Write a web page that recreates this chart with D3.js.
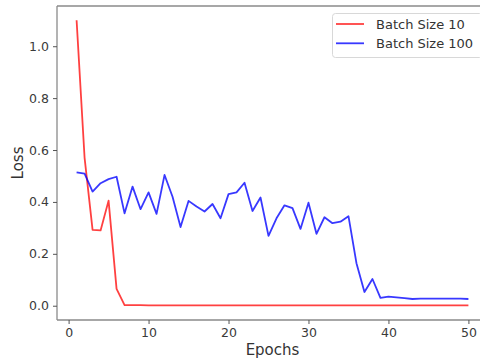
<!DOCTYPE html>
<html>
<head>
<meta charset="utf-8">
<script src="https://cdn.jsdelivr.net/npm/d3@7"></script>
<style>
  body { margin: 0; background: #fff; }
  text { font-family: "DejaVu Sans", sans-serif; }
</style>
</head>
<body>
<div id="chart"></div>
<script>
// epochs 1..50
const epochs = d3.range(1, 51);

const batch10 = [
  1.10, 0.57, 0.292, 0.29, 0.405, 0.065, 0.002, 0.002, 0.002, 0.001,
  0.001, 0.001, 0.001, 0.001, 0.001, 0.001, 0.001, 0.001, 0.001, 0.001,
  0.001, 0.001, 0.001, 0.001, 0.001, 0.001, 0.001, 0.001, 0.001, 0.001,
  0.001, 0.001, 0.001, 0.001, 0.001, 0.001, 0.001, 0.001, 0.001, 0.001,
  0.001, 0.001, 0.001, 0.001, 0.001, 0.001, 0.001, 0.001, 0.001, 0.001
];

const batch100 = [
  0.514, 0.509, 0.44, 0.472, 0.488, 0.497, 0.356, 0.459, 0.372, 0.437,
  0.354, 0.504, 0.42, 0.303, 0.404, 0.382, 0.363, 0.392, 0.337, 0.43,
  0.437, 0.474, 0.365, 0.417, 0.269, 0.337, 0.387, 0.376, 0.296, 0.397,
  0.277, 0.341, 0.318, 0.324, 0.345, 0.164, 0.053, 0.103, 0.03, 0.035,
  0.032, 0.029, 0.026, 0.027, 0.027, 0.027, 0.027, 0.027, 0.027, 0.026
];

const xTicks = [0, 10, 20, 30, 40, 50];
const yTicks = [0.0, 0.2, 0.4, 0.6, 0.8, 1.0];

const seriesNames = ["Batch Size 10", "Batch Size 100"];
const seriesColors = ["rgba(255,0,0,0.75)", "rgba(0,0,255,0.78)"];

const width = 480, height = 362;
const plotLeft = 57, plotRight = 488, plotTop = 6, plotBottom = 320;

const svg = d3.select("#chart").append("svg")
  .attr("width", width)
  .attr("height", height);

const x = d3.scaleLinear().domain([-1.45, 52.45]).range([plotLeft, plotRight]);
const y = d3.scaleLinear().domain([-0.055, 1.155]).range([plotBottom, plotTop]);

const line = d3.line()
  .x((d, i) => x(epochs[i]))
  .y(d => y(d));

[batch10, batch100].forEach((s, k) => {
  svg.append("path")
    .datum(s)
    .attr("d", line)
    .attr("fill", "none")
    .attr("stroke", seriesColors[k])
    .attr("stroke-width", 1.8)
    .attr("stroke-linejoin", "round");
});

// spines
const spine = "#8a8a8a";
svg.append("line").attr("x1", plotLeft).attr("x2", plotLeft).attr("y1", plotTop).attr("y2", plotBottom)
  .attr("stroke", spine).attr("stroke-width", 1.3);
svg.append("line").attr("x1", plotLeft).attr("x2", plotRight).attr("y1", plotBottom).attr("y2", plotBottom)
  .attr("stroke", spine).attr("stroke-width", 1.3);
svg.append("line").attr("x1", plotLeft).attr("x2", plotRight).attr("y1", plotTop).attr("y2", plotTop)
  .attr("stroke", spine).attr("stroke-width", 1.3);

// axes
const xAxis = svg.append("g")
  .attr("transform", `translate(0,${plotBottom})`)
  .call(d3.axisBottom(x).tickValues(xTicks).tickSize(4).tickPadding(4).tickFormat(d3.format("d")));
const yAxis = svg.append("g")
  .attr("transform", `translate(${plotLeft},0)`)
  .call(d3.axisLeft(y).tickValues(yTicks).tickSize(4).tickPadding(4).tickFormat(d3.format(".1f")));

[xAxis, yAxis].forEach(g => {
  g.select(".domain").remove();
  g.selectAll(".tick line").attr("stroke", "#555").attr("stroke-width", 1);
  g.selectAll(".tick text")
    .attr("fill", "#3a3a3a")
    .style("font-size", "12.5px")
    .style("font-family", "DejaVu Sans, sans-serif");
});

// axis labels
svg.append("text")
  .attr("x", (plotLeft + plotRight) / 2)
  .attr("y", 355)
  .attr("text-anchor", "middle")
  .attr("fill", "#333")
  .style("font-size", "15px")
  .text("Epochs");

svg.append("text")
  .attr("transform", `translate(23,${(plotTop + plotBottom) / 2}) rotate(-90)`)
  .attr("text-anchor", "middle")
  .attr("fill", "#333")
  .style("font-size", "15px")
  .text("Loss");

// legend
const legend = svg.append("g");
legend.append("rect")
  .attr("x", 332.5).attr("y", 13.5)
  .attr("width", 150).attr("height", 44)
  .attr("rx", 3)
  .attr("fill", "#fff")
  .attr("fill-opacity", 0.8)
  .attr("stroke", "#d8d8d8");
seriesNames.forEach((name, i) => {
  const ly = 24 + i * 19.3;
  legend.append("line")
    .attr("x1", 336).attr("x2", 364)
    .attr("y1", ly).attr("y2", ly)
    .attr("stroke", seriesColors[i])
    .attr("stroke-width", 1.8);
  legend.append("text")
    .attr("x", 376).attr("y", ly + 4.6)
    .attr("fill", "#333")
    .style("font-size", "13px")
    .text(name);
});
</script>
</body>
</html>
